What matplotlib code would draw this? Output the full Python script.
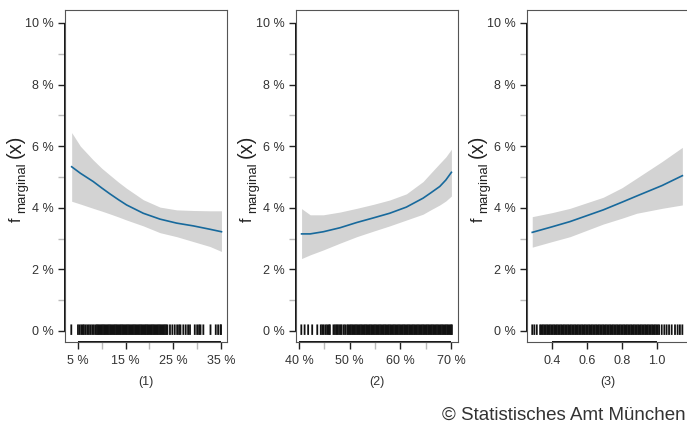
import matplotlib
matplotlib.use("Agg")
import matplotlib.pyplot as plt

plt.rcParams["font.family"] = ["Liberation Sans", "DejaVu Sans"]

# --- data (percent values unless noted) ---
# panel (1)
p1_x = [3.68, 5.5, 8.2, 10.0, 11.7, 13.5, 15.2, 18.7, 22.2, 25.7, 29.2, 32.7, 35.1]
p1_fit = [5.33, 5.12, 4.85, 4.64, 4.45, 4.26, 4.09, 3.82, 3.63, 3.50, 3.41, 3.30, 3.22]
p1_upper = [6.44, 6.00, 5.55, 5.28, 5.06, 4.83, 4.63, 4.26, 4.02, 3.93, 3.91, 3.90, 3.90]
p1_lower = [4.21, 4.12, 3.98, 3.89, 3.80, 3.70, 3.60, 3.41, 3.19, 3.06, 2.90, 2.74, 2.58]
p1_rug = [3.6, 5.0, 5.35, 5.7, 6.0, 6.25, 6.6, 6.95, 7.3, 7.65, 8.0, 8.35,
          8.75, 9.0, 9.25, 9.5, 9.75, 10.0, 10.25, 10.5, 10.75, 11.0, 11.25,
          11.5, 11.75, 12.0, 12.25, 12.5, 12.75, 13.0, 13.25, 13.5, 13.75,
          14.0, 14.25, 14.5, 14.75, 15.0, 15.25, 15.5, 15.75, 16.0, 16.25,
          16.5, 16.75, 17.0, 17.25, 17.5, 17.75, 18.0, 18.25, 18.5, 18.75,
          19.0, 19.25, 19.5, 19.75, 20.0, 20.25, 20.5, 20.75, 21.0, 21.25,
          21.5, 21.75, 22.0, 22.25, 22.5, 22.75, 23.0, 23.25, 23.5, 23.75,
          24.3, 24.8, 25.3, 25.8, 26.2, 26.5, 27.1, 27.6, 28.1, 28.5,
          29.5, 30.0, 30.4, 30.7, 31.3, 32.8, 33.9, 34.4, 34.9, 35.0]
p1_ticks = [5, 15, 25, 35]
p1_minor = [10, 20, 30]

# panel (2)
p2_x = [40.5, 42.2, 44.8, 48.1, 51.4, 54.7, 57.9, 61.2, 64.5, 66.0, 67.8, 69.0, 70.1]
p2_fit = [3.15, 3.15, 3.22, 3.35, 3.52, 3.67, 3.82, 4.02, 4.31, 4.48, 4.69, 4.90, 5.15]
p2_upper = [3.97, 3.77, 3.77, 3.86, 3.98, 4.11, 4.25, 4.45, 4.85, 5.12, 5.44, 5.65, 5.90]
p2_lower = [2.35, 2.47, 2.63, 2.85, 3.06, 3.24, 3.41, 3.60, 3.79, 3.93, 4.09, 4.22, 4.38]
p2_rug = [40.45, 41.1, 41.8, 42.6, 43.6, 44.3, 44.6, 44.9, 45.3, 45.6, 45.9,
          46.1, 46.8, 47.1, 47.4, 47.6, 47.9, 48.2, 48.4, 48.8, 49.1, 49.5,
          49.75, 50.0, 50.25, 50.5, 50.75, 51.0, 51.25, 51.5, 51.75, 52.0,
          52.25, 52.5, 52.75, 53.0, 53.25, 53.5, 53.75, 54.0, 54.25, 54.5,
          54.75, 55.0, 55.25, 55.5, 55.75, 56.0, 56.25, 56.5, 56.75, 57.0,
          57.25, 57.5, 57.75, 58.0, 58.25, 58.5, 58.75, 59.0, 59.25, 59.5,
          59.75, 60.0, 60.25, 60.5, 60.75, 61.0, 61.25, 61.5, 61.75, 62.0,
          62.25, 62.5, 62.75, 63.0, 63.25, 63.5, 63.75, 64.0, 64.25, 64.5,
          64.75, 65.0, 65.25, 65.5, 65.75, 66.0, 66.25, 66.5, 66.75, 67.0,
          67.25, 67.5, 67.75, 68.0, 68.25, 68.5, 68.75, 69.0, 69.25, 69.5,
          69.75, 70.0, 70.2]
p2_ticks = [40, 50, 60, 70]
p2_minor = [45, 55, 65]

# panel (3), x is a plain number
p3_x = [0.287, 0.40, 0.503, 0.693, 0.80, 0.884, 1.029, 1.145]
p3_fit = [3.20, 3.38, 3.55, 3.93, 4.18, 4.38, 4.72, 5.04]
p3_upper = [3.71, 3.84, 3.98, 4.34, 4.65, 4.96, 5.50, 5.96]
p3_lower = [2.72, 2.90, 3.06, 3.47, 3.66, 3.82, 3.98, 4.09]
p3_rug = [0.287, 0.299, 0.313,
          0.332, 0.340, 0.348, 0.356, 0.364, 0.372, 0.380, 0.388, 0.396,
          0.404, 0.412, 0.420, 0.428, 0.436, 0.444, 0.452, 0.460, 0.468,
          0.476, 0.484, 0.492, 0.500, 0.508, 0.516, 0.524, 0.532, 0.540,
          0.548, 0.556, 0.564, 0.572, 0.580, 0.588, 0.596, 0.604, 0.612,
          0.620, 0.628, 0.636, 0.644, 0.652, 0.660, 0.668, 0.676, 0.684,
          0.692, 0.700, 0.708, 0.716, 0.724, 0.732, 0.740, 0.748, 0.756,
          0.764, 0.772, 0.780, 0.788, 0.796, 0.804, 0.812, 0.820, 0.828,
          0.836, 0.844, 0.852, 0.860, 0.868, 0.876, 0.884, 0.892, 0.900,
          0.908, 0.916, 0.924, 0.932, 0.940, 0.948, 0.956, 0.964, 0.972,
          0.980, 0.988, 0.996, 1.004,
          1.012, 1.027, 1.042, 1.055, 1.069, 1.084, 1.103, 1.118, 1.131, 1.145]
p3_ticks = [0.4, 0.6, 0.8, 1.0]

y_ticks = [0, 2, 4, 6, 8, 10]
y_minor = [1, 3, 5, 7, 9]

W, H = 687, 426
fig = plt.figure(figsize=(W / 100, H / 100), dpi=100)


def px_box(left, right, top, bottom):
    return [left / W, 1 - bottom / H, (right - left) / W, (bottom - top) / H]


panels = [
    (65, (2.28, 36.26), p1_x, p1_fit, p1_upper, p1_lower, p1_rug, p1_ticks, p1_minor,
     [f"{t} %" for t in p1_ticks], "(1)"),
    (296, (39.4, 71.4), p2_x, p2_fit, p2_upper, p2_lower, p2_rug, p2_ticks, p2_minor,
     [f"{t} %" for t in p2_ticks], "(2)"),
    (527, (0.257, 1.183), p3_x, p3_fit, p3_upper, p3_lower, p3_rug, p3_ticks, [],
     [f"{t:.1f}" for t in p3_ticks], "(3)"),
]

ink = "#222222"
for left, xlim, x, fit, up, lo, rug, xt, xminor, xlabels, name in panels:
    ax = fig.add_axes(px_box(left, left + 162, 10, 342))
    ax.fill_between(x, lo, up, color="#d3d3d3", lw=0)
    ax.plot(x, fit, color="#17699c", lw=1.2)
    rl = ax.vlines(rug, -0.13, 0.21, color="#111111", lw=1.3)
    rl.set_snap(False)

    ax.set_xlim(*xlim)
    ax.set_ylim(-0.36, 10.42)
    ax.set_xticks(xt)
    ax.set_xticklabels(xlabels)
    ax.set_xticks(xminor, minor=True)
    ax.set_yticks(y_ticks)
    ax.set_yticklabels([f"{t} %" for t in y_ticks])
    ax.set_yticks(y_minor, minor=True)

    ax.tick_params(which="both", direction="out", length=5, width=1,
                   labelsize=9, labelcolor="#333333")
    ax.tick_params(which="major", color=ink)
    ax.tick_params(which="minor", color="#bbbbbb")
    ax.tick_params(axis="x", pad=4)
    ax.tick_params(axis="y", pad=3)
    for s in ax.spines.values():
        s.set_color("#555555")
        s.set_linewidth(0.8)

    # darker axis lines between first and last tick
    ax.plot([xt[0], xt[-1]], [0, 0], transform=ax.get_xaxis_transform(),
            color="#111111", lw=1.4, clip_on=False, solid_capstyle="butt")
    ax.plot([0, 0], [y_ticks[0], y_ticks[-1]], transform=ax.get_yaxis_transform(),
            color="#111111", lw=1.4, clip_on=False, solid_capstyle="butt")

    fig.text((left + 81) / W, 1 - 382 / H, name, ha="center", va="center",
             fontsize=9, color="#333333")

    # y label  f_marginal(x), built from three rotated pieces
    base = left - 44
    fig.text(base / W, 1 - 222 / H, "f", rotation=90, rotation_mode="anchor",
             ha="left", va="baseline", fontsize=11.5, color=ink)
    fig.text((base + 4) / W, 1 - 213 / H, "marginal", rotation=90,
             rotation_mode="anchor", ha="left", va="baseline",
             fontsize=9.5, color=ink)
    fig.text(base / W, 1 - 158 / H, "(x)", rotation=90, rotation_mode="anchor",
             ha="left", va="baseline", fontsize=14.5, color=ink)

fig.text(686 / W, 1 - 420 / H, "© Statistisches Amt München", ha="right",
         va="baseline", fontsize=13.5, color="#333333")

fig.savefig("out.png", dpi=100)
